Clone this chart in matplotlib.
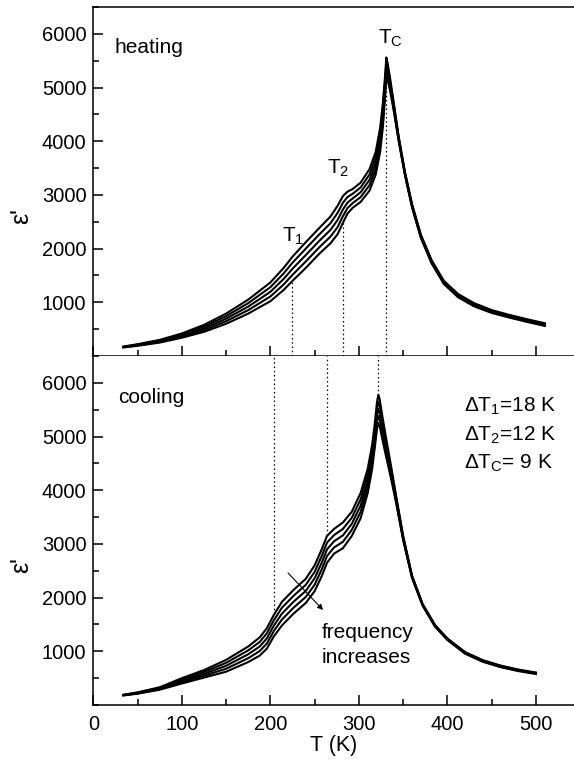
import matplotlib
matplotlib.use("Agg")
import matplotlib.pyplot as plt
from matplotlib.ticker import MultipleLocator

plt.rcParams['font.family'] = ['Liberation Sans', 'DejaVu Sans']
plt.rcParams['mathtext.fontset'] = 'custom'
plt.rcParams['mathtext.rm'] = 'Liberation Sans'
plt.rcParams['mathtext.default'] = 'regular'

# heating: five frequencies, top curve = lowest frequency
T_heat = [34, 50, 75, 100, 125, 150, 175, 200, 215, 225, 240, 255, 268, 276, 282,
          287, 293, 302, 312, 319, 324, 327, 329.5, 331, 332.5, 335, 339, 345, 352,
          360, 370, 382, 396, 412, 430, 450, 470, 490, 510]
heat_1 = [175, 220, 300, 420, 580, 790, 1050, 1370, 1640, 1850, 2120, 2380, 2600, 2800, 2980,
          3060, 3110, 3230, 3480, 3800, 4250, 4700, 5200, 5560, 5450, 5200, 4760, 4080, 3430,
          2830, 2260, 1790, 1400, 1155, 985, 855, 765, 685, 610]
heat_2 = [171, 212, 288, 400, 548, 742, 985, 1282, 1538, 1738, 2000, 2260, 2475, 2668, 2855,
          2958, 3022, 3140, 3380, 3695, 4138, 4588, 5100, 5468, 5380, 5140, 4720, 4060, 3415,
          2815, 2245, 1775, 1385, 1140, 970, 840, 752, 672, 598]
heat_3 = [168, 205, 275, 380, 515, 695, 920, 1195, 1435, 1625, 1880, 2140, 2350, 2535, 2730,
          2855, 2935, 3050, 3280, 3590, 4025, 4475, 5000, 5375, 5300, 5080, 4680, 4040, 3400,
          2800, 2230, 1760, 1370, 1125, 955, 828, 740, 660, 585]
heat_4 = [164, 198, 262, 360, 482, 648, 855, 1108, 1332, 1512, 1760, 2020, 2225, 2402, 2605,
          2752, 2848, 2960, 3180, 3485, 3912, 4362, 4900, 5282, 5220, 5020, 4640, 4020, 3385,
          2785, 2215, 1745, 1355, 1110, 940, 815, 728, 648, 572]
heat_5 = [160, 190, 250, 340, 450, 600, 790, 1020, 1230, 1400, 1640, 1900, 2100, 2270, 2480,
          2650, 2760, 2870, 3080, 3380, 3800, 4250, 4800, 5190, 5140, 4960, 4600, 4000, 3370,
          2770, 2200, 1730, 1340, 1095, 925, 802, 715, 635, 560]

# cooling
T_cool = [34, 50, 75, 100, 125, 150, 175, 188, 196, 204, 213, 226, 240, 250, 258, 264,
          272, 282, 292, 302, 310, 315, 318, 320.5, 322, 323.5, 326, 330, 336, 342,
          350, 360, 372, 386, 400, 420, 440, 460, 480, 500]
cool_1 = [190, 235, 330, 500, 650, 840, 1090, 1260, 1430, 1680, 1920, 2140, 2350, 2600, 2900, 3150,
          3280, 3400, 3600, 3950, 4400, 4850, 5250, 5650, 5780, 5690, 5430, 5040, 4480, 3900,
          3150, 2410, 1880, 1490, 1240, 985, 835, 735, 660, 605]
cool_2 = [187, 229, 319, 475, 615, 785, 1018, 1175, 1335, 1580, 1810, 2030, 2238, 2480, 2775, 3025,
          3165, 3280, 3488, 3832, 4288, 4738, 5138, 5525, 5648, 5570, 5320, 4950, 4420, 3865,
          3130, 2400, 1872, 1482, 1232, 978, 828, 728, 653, 598]
cool_3 = [184, 222, 308, 450, 580, 730, 945, 1090, 1240, 1480, 1700, 1920, 2125, 2360, 2650, 2900,
          3050, 3160, 3375, 3715, 4175, 4625, 5025, 5400, 5515, 5450, 5210, 4860, 4360, 3830,
          3110, 2390, 1865, 1475, 1225, 970, 820, 720, 646, 591]
cool_4 = [181, 216, 296, 425, 545, 675, 872, 1005, 1145, 1380, 1590, 1810, 2012, 2240, 2525, 2775,
          2935, 3040, 3262, 3598, 4062, 4512, 4912, 5275, 5382, 5320, 5100, 4770, 4300, 3800,
          3090, 2380, 1858, 1468, 1218, 962, 812, 712, 639, 584]
cool_5 = [178, 210, 285, 400, 510, 620, 800, 920, 1050, 1280, 1480, 1700, 1900, 2120, 2400, 2650,
          2820, 2920, 3150, 3480, 3950, 4400, 4800, 5150, 5250, 5190, 4990, 4680, 4240, 3770,
          3070, 2370, 1850, 1460, 1210, 955, 805, 705, 632, 577]

# transition temperatures (dotted guides)
heat_marks_T = [224, 282.5, 331]
heat_marks_eps = [1410, 2490, 5190]
cool_marks_T = [204.5, 263.7, 322]
cool_marks_eps = [1700, 3166, 5773]

fig = plt.figure(figsize=(5.74, 7.61), dpi=100)
ax1 = fig.add_axes([0.1626, 0.5322, 0.8374, 0.4586])
ax2 = fig.add_axes([0.1626, 0.0736, 0.8374, 0.4586])

for ax in (ax1, ax2):
    ax.set_xlim(0, 543)
    ax.set_ylim(0, 6500)
    ax.xaxis.set_major_locator(MultipleLocator(100))
    ax.xaxis.set_minor_locator(MultipleLocator(50))
    ax.yaxis.set_minor_locator(MultipleLocator(500))
    ax.set_yticks([1000, 2000, 3000, 4000, 5000, 6000])
    ax.tick_params(which='both', direction='in', width=1.1, labelsize=14.5)
    ax.tick_params(axis='y', pad=5)
    ax.tick_params(axis='x', pad=7)
    ax.tick_params(which='major', length=7)
    ax.tick_params(which='minor', length=4)
    ax.spines['right'].set_visible(False)
    for s in ('left', 'bottom', 'top'):
        ax.spines[s].set_linewidth(1.1)
    ax.set_ylabel("ε'", fontsize=18)
    ax.yaxis.set_label_coords(-0.125, 0.4)

ax2.spines['top'].set_visible(False)
ax1.tick_params(axis='x', labelbottom=False)

for y in (heat_1, heat_2, heat_3, heat_4, heat_5):
    ax1.plot(T_heat, y, color='black', lw=1.5, solid_joinstyle='round')
for y in (cool_1, cool_2, cool_3, cool_4, cool_5):
    ax2.plot(T_cool, y, color='black', lw=1.5, solid_joinstyle='round')

for t, e in zip(heat_marks_T, heat_marks_eps):
    ax1.plot([t, t], [0, e], color='black', lw=0.9, ls=(0, (1.2, 2.2)))
for t, e in zip(cool_marks_T, cool_marks_eps):
    ax2.plot([t, t], [e, 6500], color='black', lw=0.9, ls=(0, (1.2, 2.2)))

ax1.text(0.043, 0.883, 'heating', transform=ax1.transAxes, fontsize=15, va='center')
ax1.text(213, 2120, 'T$_1$', fontsize=15, va='baseline')
ax1.text(264, 3396, 'T$_2$', fontsize=15, va='baseline')
ax1.text(322, 5812, 'T$_C$', fontsize=15, va='baseline')

ax2.text(0.051, 0.88, 'cooling', transform=ax2.transAxes, fontsize=15, va='center')
ax2.text(419, 5462, 'ΔT$_1$=18 K', fontsize=15, va='baseline')
ax2.text(419, 4916, 'ΔT$_2$=12 K', fontsize=15, va='baseline')
ax2.text(419, 4408, 'ΔT$_C$= 9 K', fontsize=15, va='baseline')
ax2.text(258, 1248, 'frequency', fontsize=15, va='baseline')
ax2.text(258, 782, 'increases', fontsize=15, va='baseline')
ax2.annotate('', xy=(259.5, 1769), xytext=(220, 2458),
             arrowprops=dict(arrowstyle='-|>', color='black', lw=0.8,
                             mutation_scale=8, shrinkA=0, shrinkB=0))

ax2.set_xlabel('T (K)', fontsize=15.5, labelpad=1)

fig.savefig('out.png', dpi=100)
